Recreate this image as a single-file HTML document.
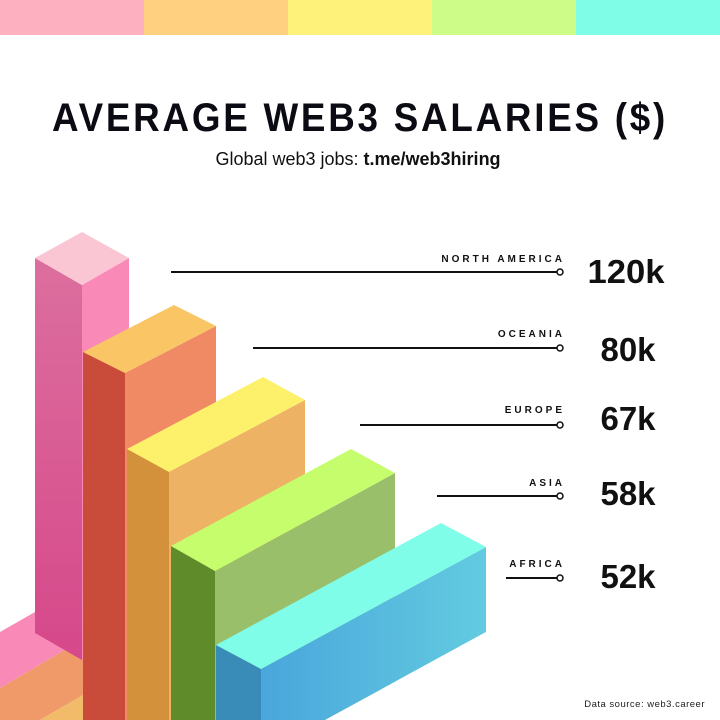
<!DOCTYPE html>
<html><head><meta charset="utf-8"><style>
html,body{margin:0;padding:0;background:#fff;}
body{width:720px;height:720px;overflow:hidden;position:relative;font-family:"Liberation Sans",sans-serif;}
</style></head><body>
<svg width="720" height="720" viewBox="0 0 720 720" style="position:absolute;left:0;top:0">
<defs>
<linearGradient id="pl" x1="0" y1="0" x2="0" y2="1"><stop offset="0" stop-color="#dc6f9e"/><stop offset="1" stop-color="#d6488a"/></linearGradient>
<linearGradient id="cr" x1="0" y1="0" x2="1" y2="0"><stop offset="0" stop-color="#4aa6dc"/><stop offset="1" stop-color="#62cbe0"/></linearGradient>
</defs>
<rect x="0" y="0" width="144" height="35" fill="#fdb0c0"/>
<rect x="144" y="0" width="144" height="35" fill="#fed080"/>
<rect x="288" y="0" width="144" height="35" fill="#fef27a"/>
<rect x="432" y="0" width="144" height="35" fill="#cdfc88"/>
<rect x="576" y="0" width="144" height="35" fill="#80fde6"/>
<!-- floor stripes -->
<polygon points="0,632 35,612 82,640 0,688" fill="#f98ab7"/>
<polygon points="0,688 82,640 130,668 40,720 0,720" fill="#f09a6a"/>
<polygon points="40,720 130,668 175,694 130,720" fill="#f2bb6a"/>
<!-- pink -->
<polygon points="35,258 82,285 82,660 35,633" fill="url(#pl)"/>
<polygon points="82,285 129,258 129,640 82,660" fill="#f98ab7"/>
<polygon points="35,258 82,232 129,258 82,285" fill="#fbc6d4"/>
<!-- orange -->
<polygon points="83,352 125,373 125,720 83,720" fill="#c94b3a"/>
<polygon points="125,373 216,326 216,720 125,720" fill="#ef8a64"/>
<polygon points="83,352 174,305 216,326 125,373" fill="#f9c565"/>
<!-- yellow -->
<polygon points="127,449 169,472 169,720 127,720" fill="#d3913b"/>
<polygon points="169,472 305,400 305,720 169,720" fill="#eeb264"/>
<polygon points="127,449 263,377 305,400 169,472" fill="#fdf06b"/>
<!-- green -->
<polygon points="171,546 215,571 215,720 171,720" fill="#5f8b2b"/>
<polygon points="215,571 395,473 395,720 215,720" fill="#9abf6a"/>
<polygon points="171,546 351,449 395,473 215,571" fill="#c6fd6c"/>
<!-- cyan -->
<polygon points="216,645 261,669 261,720 216,720" fill="#3a8cb8"/>
<polygon points="261,669 486,547 486,632 325,720 261,720" fill="url(#cr)"/>
<polygon points="216,645 441,523 486,547 261,669" fill="#7ffde8"/>
<polygon points="325,720 486,632 720,632 720,720" fill="#fff"/>
<!-- lines -->
<g stroke="#111" stroke-width="2" fill="#fff">
<line x1="171" y1="272" x2="557" y2="272"/><circle cx="560" cy="272" r="3" stroke-width="1.5"/>
<line x1="253" y1="348" x2="557" y2="348"/><circle cx="560" cy="348" r="3" stroke-width="1.5"/>
<line x1="360" y1="425" x2="557" y2="425"/><circle cx="560" cy="425" r="3" stroke-width="1.5"/>
<line x1="437" y1="496" x2="557" y2="496"/><circle cx="560" cy="496" r="3" stroke-width="1.5"/>
<line x1="506" y1="578" x2="557" y2="578"/><circle cx="560" cy="578" r="3" stroke-width="1.5"/>
</g>
<g font-family="Liberation Sans, sans-serif" font-weight="bold" font-size="10" letter-spacing="3" text-anchor="end" fill="#111">
<text x="565" y="262">NORTH AMERICA</text>
<text x="565" y="337">OCEANIA</text>
<text x="565" y="413">EUROPE</text>
<text x="565" y="486">ASIA</text>
<text x="565" y="567">AFRICA</text>
</g>
<g font-family="Liberation Sans, sans-serif" font-weight="bold" font-size="33" text-anchor="middle" fill="#111">
<text x="626" y="283" textLength="77" lengthAdjust="spacingAndGlyphs">120k</text>
<text x="628" y="361">80k</text>
<text x="628" y="430">67k</text>
<text x="628" y="505">58k</text>
<text x="628" y="588">52k</text>
</g>
<text x="360" y="131" text-anchor="middle" font-family="Liberation Sans, sans-serif" font-weight="bold" font-size="40" letter-spacing="3" fill="#0b0b14" textLength="616" lengthAdjust="spacingAndGlyphs">AVERAGE WEB3 SALARIES ($)</text>
<text x="358" y="165" text-anchor="middle" font-family="Liberation Sans, sans-serif" font-size="18" fill="#111">Global web3 jobs: <tspan font-weight="bold">t.me/web3hiring</tspan></text>
<text x="705" y="707" text-anchor="end" font-family="Liberation Sans, sans-serif" font-size="9.5" letter-spacing="0.5" fill="#222">Data source: web3.career</text>
</svg>
</body></html>
